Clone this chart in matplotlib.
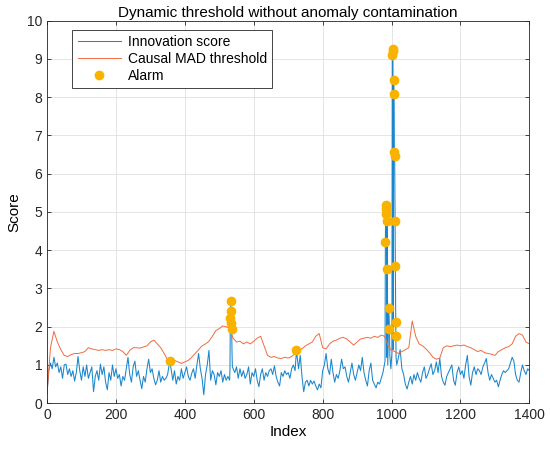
import numpy as np
import matplotlib.pyplot as plt

plt.rcParams['font.family'] = ['Liberation Sans', 'DejaVu Sans']

# innovation score, read every 5 samples
score_step = 5
score_base = [
    0.25, 0.85, 1.05, 0.90, 1.20, 0.95, 1.05, 0.80, 0.95, 0.65, 1.00, 1.02, 0.75, 0.90, 0.70, 0.85, 0.58, 0.80, 1.22, 0.85,
    0.60, 0.95, 0.70, 1.00, 0.65, 0.80, 0.95, 0.30, 0.70, 0.85, 0.60, 1.02, 0.75, 0.95, 0.55, 0.35, 0.80, 0.60, 1.00, 0.70,
    0.90, 0.65, 0.75, 0.45, 0.70, 0.60, 0.90, 1.20, 0.75, 0.55, 0.95, 1.10, 0.70, 0.85, 0.60, 0.38, 0.70, 0.55, 0.90, 1.15,
    0.80, 0.90, 0.65, 0.48, 0.60, 0.85, 0.55, 0.70, 0.60, 0.65, 0.75, 0.95, 0.90, 0.60, 0.85, 0.50, 0.70, 0.60, 0.90, 0.65,
    0.80, 0.95, 0.70, 0.60, 0.78, 0.90, 0.65, 1.00, 1.30, 0.90, 0.65, 0.22, 0.75, 1.00, 1.38, 0.60, 0.85, 0.75, 0.48, 0.80,
    0.70, 0.85, 0.55, 0.75, 0.60, 0.70, 0.60, 0.70, 1.00, 0.80, 0.95, 0.65, 0.90, 0.70, 0.85, 0.65, 0.75, 0.95, 0.50, 0.80,
    0.70, 0.90, 0.60, 0.43, 0.75, 0.90, 0.60, 0.80, 0.70, 0.85, 0.90, 0.75, 0.98, 0.70, 0.55, 0.45, 0.80, 0.70, 0.85, 0.75,
    0.80, 0.65, 0.90, 1.00, 0.85, 1.00, 0.90, 1.25, 0.70, 0.30, 0.55, 0.60, 0.45, 0.60, 0.50, 0.58, 0.45, 0.35, 0.50, 0.40,
    0.85, 1.00, 1.30, 0.90, 0.75, 1.15, 0.80, 0.55, 0.75, 0.65, 0.85, 1.15, 0.90, 0.95, 0.70, 0.55, 0.80, 1.05, 0.75, 0.60,
    0.80, 1.00, 0.85, 1.20, 0.80, 0.60, 0.45, 0.85, 1.05, 0.60, 0.50, 0.40, 0.55, 0.50, 0.65, 0.80, 0.90, 1.10, 1.10, 1.20,
    1.20, 1.20, 1.20, 1.15, 1.20, 1.40, 0.90, 0.75, 0.50, 0.37, 0.55, 0.70, 0.50, 0.75, 0.60, 0.80, 0.65, 0.55, 0.80, 0.95,
    0.65, 0.75, 0.90, 1.03, 0.75, 0.85, 1.08, 0.80, 1.17, 0.70, 0.55, 0.47, 0.70, 0.80, 0.90, 1.00, 0.60, 0.47, 0.80, 0.95,
    0.75, 0.85, 0.65, 1.00, 1.25, 0.70, 0.47, 0.80, 0.95, 0.75, 0.90, 0.85, 0.75, 0.95, 1.05, 1.17, 0.80, 0.60, 0.75, 0.65,
    0.55, 0.60, 0.43, 0.60, 0.75, 0.85, 0.80, 0.85, 0.90, 1.05, 1.20, 1.10, 0.75, 0.60, 0.55, 0.80, 1.00, 0.85, 0.75, 0.90,
    0.85,
]

# extra samples in the spikes (between the alarm points)
extra_idx = [530, 531, 537, 538, 981, 986, 989, 995, 998, 1001, 1005, 1013, 1015]
extra_val = [0.60, 0.90, 1.30, 0.95, 1.10, 1.20, 1.00, 1.25, 0.90, 1.30, 1.40, 1.20, 1.00]

# alarms (score above threshold)
alarm_idx = [356, 532, 533, 534, 535, 536, 724,
             982, 983, 984, 985, 987, 988, 992, 994,
             1002, 1003, 1004, 1006, 1007, 1008, 1009, 1010, 1011, 1012, 1012.5]
alarm_val = [1.10, 2.24, 2.67, 2.40, 2.10, 1.95, 1.38,
             4.21, 5.17, 5.08, 4.95, 4.76, 3.50, 2.50, 1.95,
             9.10, 9.27, 9.20, 8.45, 8.09, 6.56, 6.46, 4.76, 3.58, 2.13, 1.77]

# causal MAD threshold, read every 10 samples
thr_step = 10
thr_val = [
    0.25, 1.45, 1.88, 1.60, 1.40, 1.25, 1.22, 1.27, 1.30, 1.30,
    1.32, 1.35, 1.45, 1.42, 1.40, 1.38, 1.40, 1.38, 1.40, 1.38,
    1.42, 1.40, 1.35, 1.25, 1.38, 1.45, 1.45, 1.44, 1.47, 1.50,
    1.60, 1.65, 1.55, 1.45, 1.30, 1.13, 1.10, 1.12, 1.08, 1.04,
    1.08, 1.12, 1.20, 1.30, 1.40, 1.50, 1.55, 1.62, 1.75, 1.90,
    1.95, 2.02, 2.00, 1.95, 1.70, 1.60, 1.62, 1.55, 1.60, 1.55,
    1.62, 1.70, 1.75, 1.50, 1.25, 1.20, 1.22, 1.18, 1.17, 1.20,
    1.18, 1.22, 1.30, 1.38, 1.42, 1.50, 1.55, 1.60, 1.75, 1.82,
    1.45, 1.42, 1.55, 1.62, 1.65, 1.70, 1.72, 1.68, 1.60, 1.52,
    1.60, 1.68, 1.70, 1.72, 1.70, 1.75, 1.72, 1.78, 1.75, 1.50,
    1.38, 1.35, 1.30, 1.35, 1.40, 1.45, 2.15, 1.75, 1.55, 1.50,
    1.42, 1.32, 1.20, 1.15, 1.18, 1.45, 1.50, 1.48, 1.50, 1.52,
    1.50, 1.52, 1.48, 1.45, 1.40, 1.35, 1.38, 1.32, 1.30, 1.28,
    1.25, 1.35, 1.40, 1.45, 1.48, 1.55, 1.75, 1.82, 1.78, 1.60,
    1.55,
]


def build_score():
    bx = np.arange(len(score_base)) * score_step
    by = np.array(score_base)
    dense = np.array(extra_idx + alarm_idx, dtype=float)
    keep = np.array([np.min(np.abs(dense - v)) > 2 for v in bx])
    x = np.concatenate([bx[keep], dense])
    y = np.concatenate([by[keep], extra_val + alarm_val])
    order = np.argsort(x)
    return x[order], y[order]


def main():
    sx, sy = build_score()
    tx = np.arange(len(thr_val)) * thr_step

    fig = plt.figure(figsize=(5.5, 4.51), dpi=100)
    ax = fig.add_axes([0.0855, 0.106, 0.877, 0.848])

    ax.plot(sx, sy, color='#1A86CC', lw=0.75, label='Innovation score')
    ax.plot(tx, thr_val, color='#F26A3E', lw=0.7, label='Causal MAD threshold')
    ax.plot(alarm_idx, alarm_val, 'o', color='#F9B200', ms=6, mec='#F9B200', label='Alarm')

    ax.set_xlim(0, 1400)
    ax.set_ylim(0, 10)
    ax.set_xticks(np.arange(0, 1401, 200))
    ax.set_yticks(np.arange(0, 11, 1))
    ax.grid(True, color='#e0e0e0', lw=0.6)
    ax.set_axisbelow(True)
    ax.tick_params(direction='in', top=True, right=True, labelsize=10, length=3, width=0.6, colors='#262626')
    for s in ax.spines.values():
        s.set_linewidth(0.6)
        s.set_color('#262626')

    ax.set_xlabel('Index', fontsize=11, labelpad=2)
    ax.set_ylabel('Score', fontsize=11, labelpad=4)
    ax.set_title('Dynamic threshold without anomaly contamination', fontsize=11, pad=3)

    leg = ax.legend(loc='upper left', bbox_to_anchor=(0.052, 0.977), fontsize=10, fancybox=False,
                    framealpha=1, edgecolor='#262626', handlelength=3.1, borderaxespad=0,
                    labelspacing=0.2, handletextpad=0.5)
    leg.get_frame().set_linewidth(0.6)

    plt.savefig('out.png', dpi=100)


if __name__ == '__main__':
    main()
